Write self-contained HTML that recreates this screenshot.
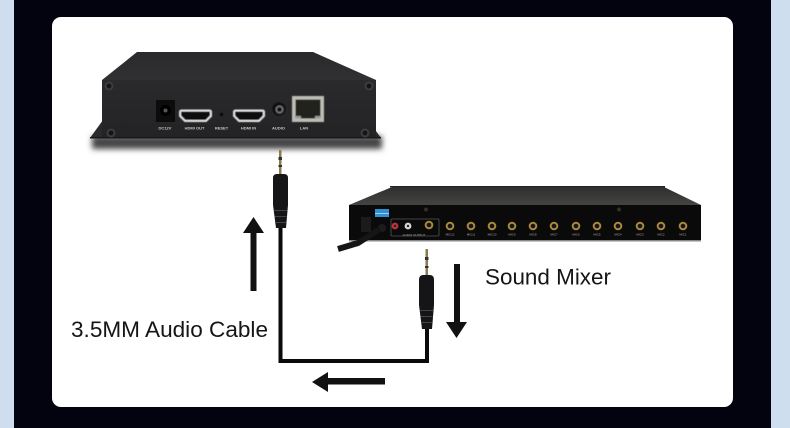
<!DOCTYPE html>
<html><head><meta charset="utf-8"><style>
html,body{margin:0;padding:0;background:#03030f}
svg{display:block}
text{font-family:"Liberation Sans",sans-serif}
.s{font-size:4px;font-weight:bold;fill:#c8c8c8;text-anchor:middle}
.m{font-size:3px;fill:#aaa;text-anchor:middle}
</style></head><body>
<svg width="790" height="428" viewBox="0 0 790 428" xmlns="http://www.w3.org/2000/svg">
<defs>
<filter id="b1" x="-10%" y="-100%" width="120%" height="300%"><feGaussianBlur stdDeviation="3"/></filter>
<filter id="b05"><feGaussianBlur stdDeviation="0.4"/></filter>
<linearGradient id="top1" x1="0" y1="0" x2="0" y2="1"><stop offset="0" stop-color="#2a2a2c"/><stop offset="1" stop-color="#303032"/></linearGradient>
<linearGradient id="front1" x1="0" y1="0" x2="0" y2="1"><stop offset="0" stop-color="#2a2a2c"/><stop offset="1" stop-color="#232325"/></linearGradient>
<linearGradient id="top2" x1="0" y1="0" x2="0" y2="1"><stop offset="0" stop-color="#2e2e2e"/><stop offset="1" stop-color="#444442"/></linearGradient>
<g id="jack"><circle r="4.300" fill="#a88a3a"/><circle r="2.300" fill="#141414"/></g>
<g id="screw"><circle r="4.500" fill="#3c3c3e"/><circle r="2.400" fill="#141416"/></g>
</defs>
<rect width="790" height="428" fill="#03030f"/>
<rect x="0" y="0" width="14" height="428" fill="#cfdeee"/>
<rect x="771" y="0" width="19" height="428" fill="#cfdeee"/>
<rect x="52" y="17" width="681" height="390" rx="9" fill="#fff"/>

<!-- device 1 -->
<rect x="92" y="136" width="290" height="13" fill="#444" filter="url(#b1)"/>
<polygon points="90,138 103,120 103,138" fill="#2a2a2c"/>
<polygon points="381,138 368,120 368,138" fill="#2a2a2c"/>
<polygon points="137,52 313,52 376,80 102,80" fill="url(#top1)"/>
<polygon points="102,80 376,80 376,138 102,138" fill="url(#front1)"/>
<rect x="90" y="137" width="291" height="1.500" fill="#18181a"/>
<use href="#screw" x="109" y="86"/><use href="#screw" x="369" y="86"/>
<use href="#screw" x="111" y="133"/><use href="#screw" x="365" y="133"/>
<rect x="156" y="100" width="19" height="22" fill="#0c0c0c"/>
<circle cx="165.500" cy="110.500" r="5.500" fill="#000"/><circle cx="165.500" cy="110.500" r="2" fill="#555"/>
<g filter="url(#b05)">
<path d="M180,112 Q180,110.500 182,110.500 H209 Q211,110.500 211,112 V116 L206,121 H185 L180,116Z" fill="#0b0b0b" stroke="#e4e4e4" stroke-width="2"/>
<path d="M234,112 Q234,110.500 236,110.500 H262 Q264,110.500 264,112 V116 L259,121 H239 L234,116Z" fill="#0b0b0b" stroke="#e4e4e4" stroke-width="2"/>
<circle cx="221.500" cy="114.500" r="1.500" fill="#050505"/>
<circle cx="279" cy="109" r="6.500" fill="#0a0a0a"/><circle cx="279.500" cy="109.500" r="4" fill="#777"/><circle cx="279.500" cy="109.500" r="2.400" fill="#111"/>
<rect x="292" y="96" width="32" height="26" fill="#bdbbb4"/>
<rect x="295.500" y="99.500" width="25" height="19" fill="#23231f"/>
<rect x="295" y="116" width="6" height="2.500" fill="#999"/><rect x="315" y="116" width="6" height="2.500" fill="#999"/>
</g>
<text class="s" x="165" y="129.500">DC12V</text>
<text class="s" x="194.500" y="129.500">HDMI OUT</text>
<text class="s" x="221.500" y="129.500">RESET</text>
<text class="s" x="248.500" y="129.500">HDMI IN</text>
<text class="s" x="278.500" y="129.500">AUDIO</text>
<text class="s" x="304" y="129.500">LAN</text>

<!-- device 2 -->
<rect x="390" y="186" width="275" height="4" fill="#222"/>
<rect x="390" y="187" width="4" height="3" fill="#999"/><rect x="661" y="187" width="3" height="3" fill="#999"/>
<polygon points="392,187 664,187 701,205 349,205" fill="url(#top2)"/>
<rect x="349" y="205" width="352" height="36" fill="#0a0a0b"/>
<rect x="349" y="240" width="352" height="1.500" fill="#888"/>
<circle cx="426" cy="209.500" r="2" fill="#33302a"/><circle cx="619" cy="209.500" r="2" fill="#33302a"/>
<rect x="375" y="209" width="14" height="8" fill="#2f8fd0"/>
<rect x="375" y="213" width="14" height="1" fill="#9fd0ee"/>
<rect x="361" y="217" width="10" height="15" fill="#1b1b1b"/>
<circle cx="382" cy="228" r="4" fill="#1c1c1c"/>
<rect x="391" y="219" width="48" height="17" rx="1" fill="none" stroke="#555" stroke-width="0.800"/>
<circle cx="395" cy="226" r="3.400" fill="#c03038"/><circle cx="395" cy="226" r="1.200" fill="#222"/>
<circle cx="408" cy="226" r="3.400" fill="#d8d6d0"/><circle cx="408" cy="226" r="1.200" fill="#222"/>
<use href="#jack" x="429" y="225"/>
<use href="#jack" x="450" y="226"/><use href="#jack" x="471" y="226"/><use href="#jack" x="492" y="226"/><use href="#jack" x="512" y="226"/><use href="#jack" x="533" y="226"/><use href="#jack" x="554" y="226"/><use href="#jack" x="576" y="226"/><use href="#jack" x="597" y="226"/><use href="#jack" x="618" y="226"/><use href="#jack" x="640" y="226"/><use href="#jack" x="661" y="226"/><use href="#jack" x="683" y="226"/>
<text class="m" x="450" y="235.500">MIC12</text><text class="m" x="471" y="235.500">MIC11</text><text class="m" x="492" y="235.500">MIC10</text><text class="m" x="512" y="235.500">MIC9</text><text class="m" x="533" y="235.500">MIC8</text><text class="m" x="554" y="235.500">MIC7</text><text class="m" x="576" y="235.500">MIC6</text><text class="m" x="597" y="235.500">MIC5</text><text class="m" x="618" y="235.500">MIC4</text><text class="m" x="640" y="235.500">MIC3</text><text class="m" x="661" y="235.500">MIC2</text><text class="m" x="683" y="235.500">MIC1</text>
<text class="m" x="414" y="236">AUDIO OUTPUT</text>
<path d="M338,249 L358,243 L380,229" fill="none" stroke="#151515" stroke-width="6"/>

<!-- cable -->
<path d="M280.500,228 V361 H427 V329" fill="none" stroke="#0a0a0a" stroke-width="4"/>
<rect x="279" y="150" width="2.500" height="24" fill="#8a7a50"/>
<rect x="278.500" y="157" width="3.500" height="3" fill="#333"/><rect x="278.500" y="165" width="3.500" height="2" fill="#333"/>
<path d="M273,178 Q273,174 277,174 H284 Q288,174 288,178 V205 L286,228 H276 L273,205Z" fill="#151517"/>
<rect x="274" y="210" width="13" height="1" fill="#444"/><rect x="274.500" y="216" width="12" height="1" fill="#444"/><rect x="275" y="222" width="11" height="1" fill="#444"/>
<rect x="425.500" y="249" width="2.500" height="26" fill="#8a7a50"/>
<rect x="425" y="257" width="3.500" height="3" fill="#333"/><rect x="425" y="266" width="3.500" height="2" fill="#333"/>
<path d="M419,280 Q419,275 423,275 H430 Q434,275 434,280 V305 L432,329 H422 L419,305Z" fill="#151517"/>
<rect x="420" y="310" width="13" height="1" fill="#444"/><rect x="420.500" y="316" width="12" height="1" fill="#444"/><rect x="421" y="322" width="11" height="1" fill="#444"/>

<!-- arrows -->
<path d="M250.500,291 V233 H243 L253.500,217 L264,233 H256.500 V291Z" fill="#111"/>
<path d="M454,264 H460 V322 H467 L456.500,338 L446,322 H454Z" fill="#111"/>
<path d="M385,378 H328 V372 L312,382 L328,392 V384.500 H385Z" fill="#111"/>

<text x="71" y="337" font-size="22" fill="#151515" textLength="197" lengthAdjust="spacingAndGlyphs">3.5MM Audio Cable</text>
<text x="485" y="284.500" font-size="22" fill="#151515" textLength="126" lengthAdjust="spacingAndGlyphs">Sound Mixer</text>
</svg>
</body></html>
